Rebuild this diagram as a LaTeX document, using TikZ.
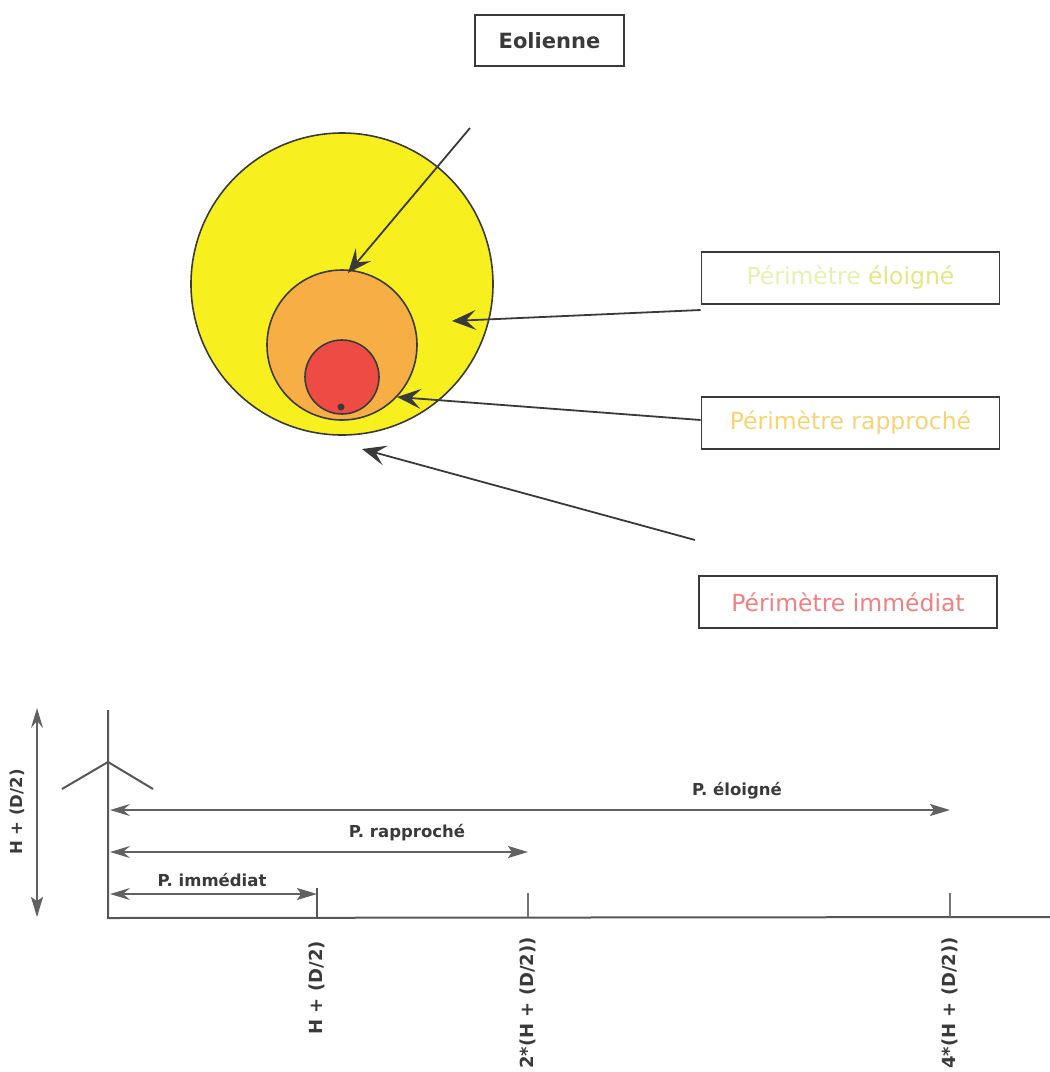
\documentclass[tikz,border=0pt]{standalone}
\usepackage{fontspec}
\setmainfont{DejaVu Sans}
\usetikzlibrary{arrows.meta}
\definecolor{ink}{HTML}{3A3A3A}
\definecolor{yel}{HTML}{F8F01E}
\definecolor{ora}{HTML}{F6AE45}
\definecolor{redc}{HTML}{EE4B45}
\definecolor{txtel}{HTML}{E3E682}
\definecolor{txtelpale}{HTML}{E8F0B0}
\definecolor{txtra}{HTML}{F6D474}
\definecolor{txtim}{HTML}{F28080}
\tikzset{
  labelbox/.style={draw=ink, line width=1.8pt, minimum width=298pt, minimum height=52pt, inner sep=0pt, font=\fontsize{23.5}{28}\selectfont},
  callout/.style={draw=ink, line width=1.8pt, -{Stealth[length=24pt,width=20pt,inset=10pt]}},
  dim/.style={draw=ink!80, line width=1.8pt, {Stealth[length=20pt,width=12pt,inset=7pt]}-{Stealth[length=20pt,width=12pt,inset=4pt]}},
  dimlbl/.style={font=\bfseries\fontsize{16.5}{19}\selectfont, text=ink},
  ticklbl/.style={font=\bfseries\fontsize{18}{21}\selectfont, text=ink, rotate=90, anchor=east, inner sep=0pt}
}
\begin{document}
\begin{tikzpicture}[x=1pt,y=-1pt]
\useasboundingbox (0,0) rectangle (1050,1072);
% title
\node[draw=ink, line width=2pt, minimum width=149pt, minimum height=51pt, inner sep=0pt,
      font=\bfseries\fontsize{21}{25}\selectfont, text=ink] (eol) at (549.5,40.5) {Eolienne};
% circles
\draw[ink, line width=1.6pt, fill=yel] (342,284) circle[radius=151];
\draw[ink, line width=1.6pt, fill=ora] (342,345) circle[radius=75];
\draw[ink, line width=1.6pt, fill=redc] (342,377) circle[radius=37];
\fill[ink] (341,407) circle[radius=3.5];
\coordinate (topo) at (348,273);
\coordinate (cy) at (452,321);
\coordinate (co) at (397,397);
\coordinate (cb) at (362,449);
\coordinate (s1) at (470,128);
\coordinate (s4) at (695,540);
% label boxes
\node[labelbox, text=txtel] (el) at (850.5,278) {\textcolor{txtelpale}{Périmètre} éloigné};
\node[labelbox, text=txtra] (ra) at (850.5,423) {Périmètre rapproché};
\node[labelbox, text=txtim] (im) at (848,602) {Périmètre immédiat};
% callouts
\draw[callout] (s1) -- (topo);
\draw[callout] (el.west |- 0,310) -- (cy);
\draw[callout] (ra.west |- 0,420) -- (co);
\draw[callout] (s4) -- (cb);
% bottom diagram
\coordinate (mtop) at (108,710);
\coordinate (mbot) at (108,918);
\coordinate (hub) at (108,762);
\coordinate (bl) at (62,789);
\coordinate (br) at (153,789);
\coordinate (gend) at (1050,917);
\draw[ink!85, line width=2pt] (mtop) -- (mbot) -- (gend);
\draw[ink!85, line width=2pt] (bl) -- (hub) -- (br);
\coordinate (hA) at (37,708);
\coordinate (hB) at (37,917);
\draw[dim] (hA) -- (hB);
\node[dimlbl, rotate=90] (hl) at (17,812) {H + (D/2)};
% ticks
\coordinate (t1a) at (317,888); \coordinate (t1b) at (317,917);
\coordinate (t2a) at (528,893); \coordinate (t2b) at (528,917);
\coordinate (t3a) at (950,893); \coordinate (t3b) at (950,917);
\draw[ink!85, line width=1.5pt] (t1a) -- (t1b);
\draw[ink!70, line width=1.2pt] (t2a) -- (t2b);
\draw[ink!70, line width=1.2pt] (t3a) -- (t3b);
% dimension arrows
\coordinate (e0) at (110,810); \coordinate (e1) at (950,810);
\coordinate (r0) at (110,852); \coordinate (r1) at (528,852);
\coordinate (i0) at (110,894); \coordinate (i1) at (317,894);
\draw[dim] (e0) -- (e1);
\draw[dim] (r0) -- (r1);
\draw[dim] (i0) -- (i1);
\node[dimlbl] (pel) at (737,791) {P. éloigné};
\node[dimlbl] (pra) at (407,833) {P. rapproché};
\node[dimlbl] (pim) at (212,880) {P. immédiat};
% tick labels
\node[ticklbl] (l1) at (317,941) {H + (D/2)};
\node[ticklbl] (l2) at (528,937) {2*(H + (D/2))};
\node[ticklbl] (l3) at (950,937) {4*(H + (D/2))};
\end{tikzpicture}
\end{document}
